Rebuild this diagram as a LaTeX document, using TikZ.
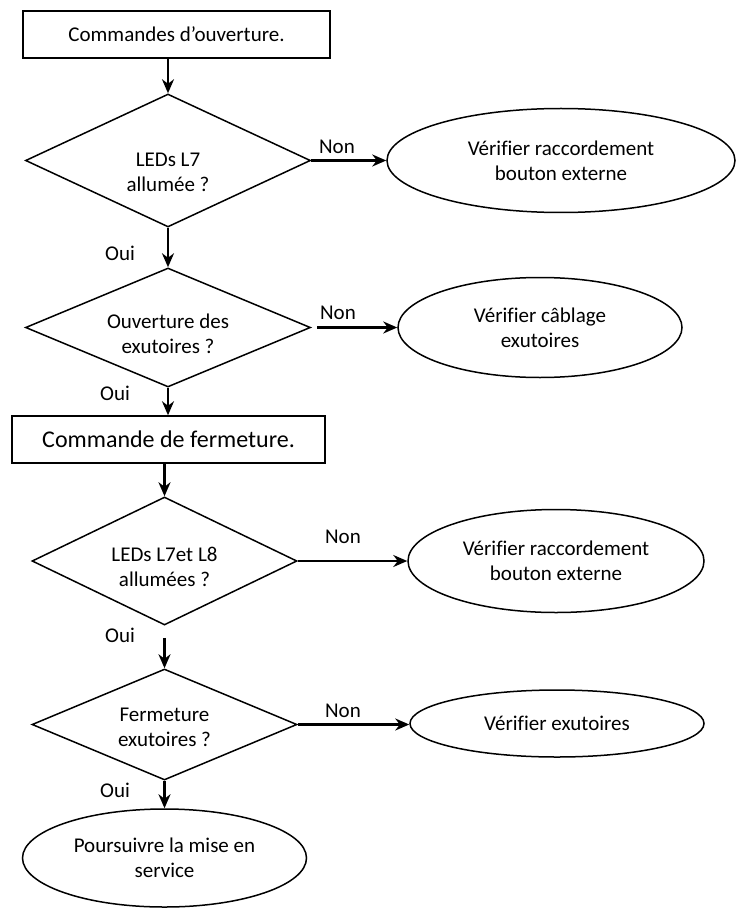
\documentclass[tikz,border=0pt]{standalone}
\usepackage{fontspec}
\setmainfont[Ligatures=NoCommon]{Carlito}
\usetikzlibrary{shapes.geometric,arrows.meta}
\begin{document}
\begin{tikzpicture}[x=1pt,y=-1pt,
  box/.style={draw,line width=1.5pt,rectangle,inner sep=0pt,align=center},
  dec/.style={draw,line width=1.5pt,diamond,inner sep=0pt},
  term/.style={draw,line width=1.5pt,ellipse,inner sep=0pt,align=center,font=\fontsize{21}{25}\selectfont},
  txt/.style={font=\fontsize{21}{25}\selectfont,align=center,inner sep=0pt},
  lbl/.style={font=\fontsize{21}{25}\selectfont,inner sep=0pt},
  arr/.style={line width=2.3pt,-{Stealth[length=14pt,width=12pt]}}
]
\useasboundingbox (0,0) rectangle (736,909);

% boxes
\node[box,minimum width=307pt,minimum height=47pt,font=\fontsize{21}{25}\selectfont] (b1) at (176.5,34.5) {Commandes d’ouverture.};
\node[box,minimum width=313pt,minimum height=47pt,font=\fontsize{24}{28}\selectfont] (b2) at (168.5,439.5) {Commande de fermeture.};

% decisions
\node[dec,minimum width=285pt,minimum height=133pt] (d1) at (168,160.5) {};
\node[txt] (t1) at (168,172) {LEDs L7\\allumée ?};
\node[dec,minimum width=285pt,minimum height=119pt] (d2) at (168,327.5) {};
\node[txt] (t2) at (168,334) {Ouverture des\\exutoires ?};
\node[dec,minimum width=265pt,minimum height=128pt] (d3) at (164.5,561) {};
\node[txt] (t3) at (164.5,567) {LEDs L7et L8\\allumées ?};
\node[dec,minimum width=265pt,minimum height=111pt] (d4) at (164.5,724.5) {};
\node[txt] (t4) at (164.5,727) {Fermeture\\exutoires ?};

% terminals
\node[term,minimum width=348pt,minimum height=104pt] (e1) at (561,160.5) {Vérifier raccordement\\bouton externe};
\node[term,minimum width=284pt,minimum height=100pt] (e2) at (540,327.5) {Vérifier câblage\\exutoires};
\node[term,minimum width=296pt,minimum height=103pt] (e3) at (556,561) {Vérifier raccordement\\bouton externe};
\node[term,minimum width=294pt,minimum height=67pt] (e4) at (557,723.5) {Vérifier exutoires};
\node[term,minimum width=284pt,minimum height=98pt] (e5) at (164.5,858) {Poursuivre la mise en\\service};

% vertical connectors
\draw[arr] (b1.south -| d1.north) -- (d1.north);
\draw[arr] (d1.south) -- (d2.north);
\draw[arr] (d2.south) -- (d2.south |- b2.north);
\draw[arr] (b2.south -| d3.north) -- (d3.north);
\draw[arr,shorten <=12pt] (d3.south) -- (d4.north);
\draw[arr] (d4.south) -- (e5.north);

% horizontal connectors
\draw[arr] (d1.east) -- (e1.west);
\draw[arr,shorten <=6pt] (d2.east) -- (e2.west);
\draw[arr] (d3.east) -- (e3.west);
\draw[arr] (d4.east) -- (d4.east -| e4.west);

% labels
\node[lbl] (n1) at (337,147) {Non};
\node[lbl] (n2) at (338,313) {Non};
\node[lbl] (n3) at (343,537) {Non};
\node[lbl] (n4) at (343,711) {Non};
\node[lbl] (o1) at (120,253) {Oui};
\node[lbl] (o2) at (115,393) {Oui};
\node[lbl] (o3) at (120,635) {Oui};
\node[lbl] (o4) at (115,790) {Oui};
\end{tikzpicture}
\end{document}
